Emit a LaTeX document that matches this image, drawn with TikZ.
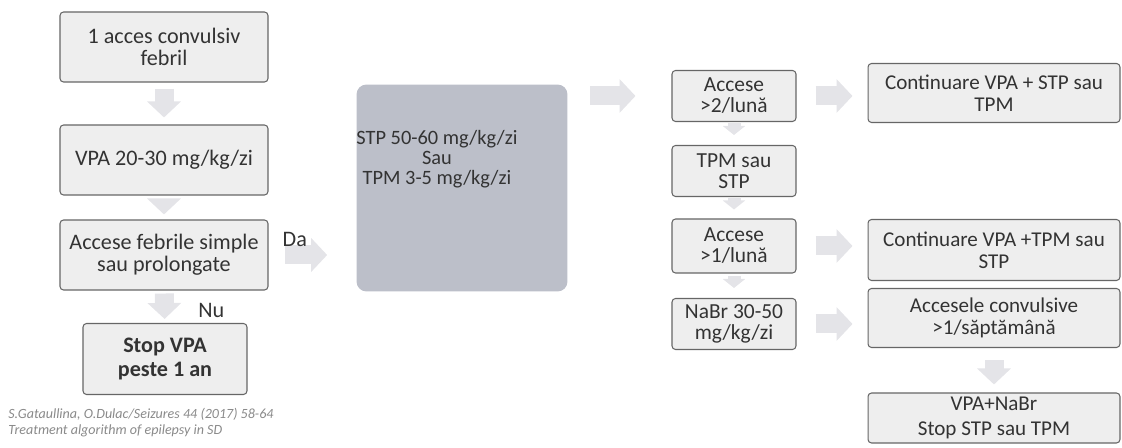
\documentclass[tikz,border=0pt]{standalone}
\usepackage{fontspec}
\setmainfont{Carlito}
\usetikzlibrary{arrows.meta,positioning,calc}
\definecolor{cBox}{HTML}{EEEEEE}
\definecolor{cBig}{HTML}{BCBFC9}
\definecolor{cArr}{HTML}{E4E4E8}
\definecolor{cTxt}{HTML}{333333}
\definecolor{cRef}{HTML}{8A8A8A}
\tikzset{
  font=\fontsize{12.6}{12.5}\selectfont,
  sbox/.style={draw=black!60, fill=cBox, rounded corners=2pt, align=center,
               text=cTxt, inner sep=2pt, line width=0.6pt},
  lbox/.style={sbox, minimum width=4.16cm, minimum height=1.4cm},
  qbox/.style={sbox, minimum width=2.48cm, minimum height=1.02cm, font=\fontsize{12.2}{12}\selectfont},
  rbox/.style={sbox, minimum width=5.04cm, minimum height=1.18cm, font=\fontsize{12}{12.5}\selectfont},
  bigbox/.style={fill=cBig, rounded corners=0.2cm, minimum width=4.22cm, minimum height=4.14cm},
  fatarr/.style={draw=cArr, line width=0.38cm, -{Triangle[width=0.66cm,length=0.32cm]}},
  thinarr/.style={draw=cArr, line width=0.26cm, -{Triangle[width=0.44cm,length=0.18cm]}},
  lbl/.style={text=cTxt, inner sep=1pt},
}

\begin{document}
\begin{tikzpicture}[x=0.02cm, y=-0.02cm]
  \useasboundingbox (0,0) rectangle (1122,448);
  % left column
  \node[lbox] (febril) at (164,47) {1 acces convulsiv\\febril};
  \node[lbox] (vpa) at (164,160) {VPA 20-30 mg/kg/zi};
  \node[lbox] (accfeb) at (164,255) {Accese febrile simple\\sau prolongate};
  \node[sbox, minimum width=3.28cm, minimum height=1.42cm, font=\fontsize{12.6}{13.5}\selectfont\bfseries] (stopvpa) at (165,359) {Stop VPA\\peste 1 an};
  \node[text=cRef, align=left, anchor=north west, inner sep=0pt,
        font=\fontsize{8}{9}\selectfont\itshape] (sursa) at (8,408)
        {S.Gataullina, O.Dulac/Seizures 44 (2017) 58-64\\Treatment algorithm of epilepsy in SD};
  % middle
  \node[bigbox] (terapie) at (462,188) {};
  \node[text=cTxt, align=center, font=\fontsize{11.6}{11.5}\selectfont] (terapietxt) at (437,159) {STP 50-60 mg/kg/zi\\Sau\\TPM 3-5 mg/kg/zi};
  % right
  \node[qbox] (acc2) at (734,96) {Accese\\>2/lună};
  \node[qbox] (tpmstp) at (734,171) {TPM sau\\STP};
  \node[qbox, minimum height=1.08cm] (acc1) at (734,246) {Accese\\>1/lună};
  \node[qbox] (nabr) at (734,324) {NaBr 30-50\\mg/kg/zi};
  \node[rbox] (cont1) at (994,93) {Continuare VPA + STP sau\\TPM};
  \node[rbox, minimum height=1.22cm] (cont2) at (994,250) {Continuare VPA +TPM sau\\STP};
  \node[rbox] (accsapt) at (994,318) {Accesele convulsive\\>1/săptămână};
  \node[rbox, minimum height=1.0cm] (vpanabr) at (994,418) {VPA+NaBr\\[2pt]Stop STP sau TPM};

  \draw[fatarr, shorten <=0.12cm, shorten >=0.14cm] (febril) -- (vpa);
  \draw[fatarr, shorten <=0.1cm, shorten >=0.1cm] (vpa) -- (accfeb);
  \draw[fatarr, shorten <=0.06cm, shorten >=0.08cm] (accfeb) -- node[lbl, right=0.45cm, yshift=-0.08cm] {Nu} (stopvpa);
  \draw[fatarr, shorten <=0.32cm, shorten >=0.58cm] (accfeb.east) -- node[lbl, above=0.06cm, pos=0.3, yshift=-0.12cm] {Da} (accfeb.east -| terapie.west);
  \draw[fatarr, shorten <=0.44cm, shorten >=0.72cm] (terapie.east |- acc2.west) -- (acc2.west);
  \draw[fatarr, shorten <=0.38cm, shorten >=0.3cm] (acc2.east) -- (acc2.east -| cont1.west);
  \draw[fatarr, shorten <=0.38cm, shorten >=0.3cm] (acc1.east) -- (acc1.east -| cont2.west);
  \draw[fatarr, shorten <=0.38cm, shorten >=0.3cm] (nabr.east) -- (nabr.east -| accsapt.west);
  \draw[thinarr, shorten <=0.02cm, shorten >=0.2cm] (acc2) -- (tpmstp);
  \draw[thinarr, shorten <=0.02cm, shorten >=0.18cm] (tpmstp) -- (acc1);
  \draw[thinarr, shorten <=0.04cm, shorten >=0.2cm] (acc1) -- (nabr);
  \draw[fatarr, shorten <=0.24cm, shorten >=0.16cm] (accsapt) -- (vpanabr);
\end{tikzpicture}
\end{document}
